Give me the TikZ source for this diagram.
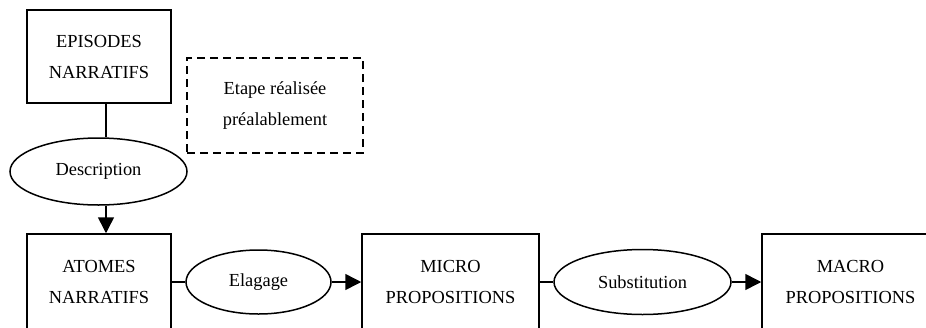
\documentclass[tikz,border=0pt]{standalone}
\usepackage{fontspec}
\setmainfont{Liberation Serif}
\usetikzlibrary{shapes.geometric,arrows.meta}
\begin{document}
\begin{tikzpicture}[x=1pt,y=-1pt,
  txt/.style={align=center, inner sep=0pt, font=\fontsize{18.4}{31}\selectfont},
  box/.style={txt, draw, line width=1.5pt},
  dbox/.style={txt, draw, line width=1.8pt, dash pattern=on 8pt off 5pt},
  oval/.style={txt, draw, ellipse, line width=1.5pt},
  conn/.style={line width=1.5pt},
  arr/.style={line width=1.5pt, -{Triangle[length=16pt,width=16pt]}}]
\useasboundingbox (0,0) rectangle (926,327);
\clip (0,0) rectangle (926,327);
\node[box, minimum width=144, minimum height=93] (ep) at (99,56.5) {EPISODES\\NARRATIFS};
\node[dbox, minimum width=176, minimum height=95] (pre) at (275,105.5) {Etape réalisée\\préalablement};
\node[oval, minimum width=177, minimum height=67] (desc) at (98.5,171.5) {Description};
\node[box, minimum width=144, minimum height=96] (at) at (99,282) {ATOMES\\NARRATIFS};
\node[oval, minimum width=145, minimum height=64] (el) at (258.5,282) {Elagage};
\node[box, minimum width=177, minimum height=96] (mi) at (450.5,282) {MICRO\\PROPOSITIONS};
\node[oval, minimum width=177, minimum height=65] (su) at (642.5,282) {Substitution};
\node[box, minimum width=177, minimum height=96] (ma) at (850.5,282) {MACRO\\PROPOSITIONS};
\draw[conn] ([xshift=7pt]ep.south) -- ([xshift=7pt]ep.south |- desc.north);
\draw[arr] ([xshift=7pt]ep.south |- desc.south) -- ([xshift=7pt]ep.south |- at.north);
\draw[conn] (el.west -| at.east) -- (el.west);
\draw[arr] (el.east) -- (el.east -| mi.west);
\draw[conn] (su.west -| mi.east) -- (su.west);
\draw[arr] (su.east) -- (su.east -| ma.west);
\end{tikzpicture}
\end{document}
